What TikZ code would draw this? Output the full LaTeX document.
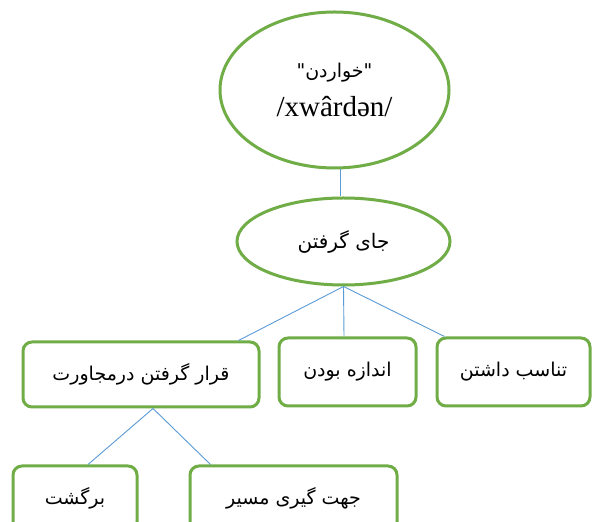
\documentclass[tikz,border=0pt]{standalone}
\usepackage{fontspec}
\setmainfont{Liberation Serif}
\newfontfamily\fa[Script=Arabic]{DejaVu Sans}
\TeXXeTstate=1
\usetikzlibrary{shapes.geometric}
\definecolor{ringgreen}{HTML}{70AD47}
\definecolor{linkblue}{HTML}{5B9BD5}
\tikzset{
  oval/.style={ellipse,draw=ringgreen,line width=3pt,inner sep=0pt,fill=white},
  tag/.style={rectangle,rounded corners=9pt,draw=ringgreen,line width=3pt,inner sep=0pt,fill=white,font=\fa\fontsize{19}{23}\selectfont},
  link/.style={draw=linkblue,line width=0.9pt}
}
\begin{document}
\begin{tikzpicture}[x=1pt,y=1pt]
\clip (0,0) rectangle (593,521);
\fill[white] (0,0) rectangle (593,521);
\node[oval,minimum width=229,minimum height=156,align=center] (word) at (334.5,431.0) {{\fa\fontsize{19}{23}\selectfont\beginR"خواردن"\endR}\\[14pt]{\fontsize{29}{33}\selectfont /xwârdən/}};
\node[oval,minimum width=213,minimum height=87,font=\fa\fontsize{20}{24}\selectfont] (place) at (343.5,279.5) {\beginR جای گرفتن\endR};
\node[tag,minimum width=236,minimum height=65] (near) at (141.0,146.5) {\beginR قرار گرفتن درمجاورت\endR};
\node[tag,minimum width=137,minimum height=68] (size) at (347.5,149.0) {\beginR اندازه بودن\endR};
\node[tag,minimum width=153,minimum height=68] (ratio) at (513.5,149.0) {\beginR تناسب داشتن\endR};
\node[tag,minimum width=124,minimum height=65] (back) at (75.0,22.5) {\beginR برگشت\endR};
\node[tag,minimum width=207,minimum height=65] (route) at (293.5,22.5) {\beginR جهت گیری مسیر\endR};
\draw[link] ([xshift=5.5pt]word.south) -- ([xshift=-3.5pt]place.north);
\draw[link] (place.south) -- ([xshift=-22pt]near.north east);
\draw[link] (place.south) -- ([xshift=-3.5pt]size.north);
\draw[link] (place.south) -- ([xshift=9pt]ratio.north west);
\draw[link] ([xshift=12pt]near.south) -- ([xshift=13pt]back.north);
\draw[link] ([xshift=12pt]near.south) -- ([xshift=22pt]route.north west);
\end{tikzpicture}
\end{document}
